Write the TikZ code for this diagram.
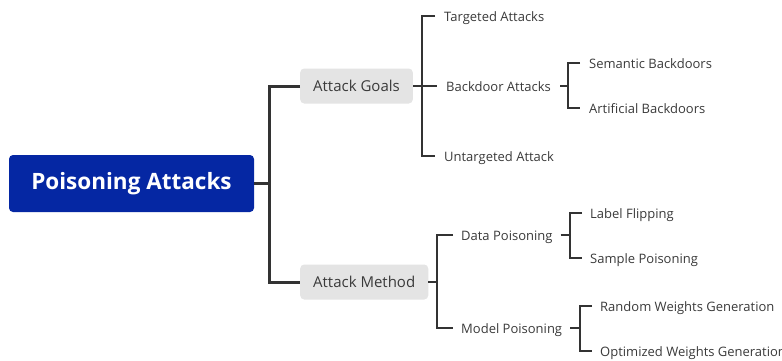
\documentclass[tikz,border=0pt]{standalone}
\usepackage{fontspec}
\setmainfont{Open Sans}
\usetikzlibrary{calc}
\definecolor{rootblue}{HTML}{0527A3}
\definecolor{boxgray}{HTML}{E4E4E4}
\definecolor{ink}{HTML}{3A3A3A}
\definecolor{wire}{HTML}{333333}
\tikzset{
  rootbox/.style={fill=rootblue, text=white, rounded corners=4pt,
    minimum width=245pt, minimum height=57pt, inner sep=0pt,
    font=\fontsize{22.5}{26}\selectfont\bfseries},
  topicbox/.style={fill=boxgray, text=ink, rounded corners=4pt, anchor=west,
    minimum height=35pt, inner xsep=13pt, inner ysep=0pt,
    font=\fontsize{15}{18}\selectfont},
  leaf/.style={text=ink, anchor=west, inner xsep=9pt, inner ysep=0pt,
    text height=11pt, text depth=0pt,
    font=\fontsize{13}{16}\selectfont},
  trunk/.style={draw=wire, line width=3pt},
  twig/.style={draw=wire, line width=2pt},
}
\begin{document}
\begin{tikzpicture}[x=1pt, y=-1pt]
\useasboundingbox (0,0) rectangle (782,360);

% central topic
\node[rootbox] (root) at (131.5,183.5) {Poisoning Attacks};

% main branches
\node[topicbox] (goals) at (300,86) {Attack Goals};
\node[topicbox] (method) at (300,282) {Attack Method};

% attack goals subtree
\node[leaf] (targeted) at (435,15.5) {Targeted Attacks};
\node[leaf] (backdoor) at (437,86) {Backdoor Attacks};
\node[leaf] (untargeted) at (435,156) {Untargeted Attack};
\node[leaf] (semantic) at (580,63) {Semantic Backdoors};
\node[leaf] (artificial) at (580,108) {Artificial Backdoors};

% attack method subtree
\node[leaf, inner xsep=8pt] (data) at (453,235) {Data Poisoning};
\node[leaf, inner xsep=8pt] (model) at (453,328) {Model Poisoning};
\node[leaf, inner xsep=8pt] (flip) at (582,213) {Label Flipping};
\node[leaf, inner xsep=8pt] (sample) at (582,258) {Sample Poisoning};
\node[leaf, inner xsep=8pt] (random) at (592,306) {Random Weights Generation};
\node[leaf, inner xsep=8pt] (optimized) at (592,351) {Optimized Weights Generation};

% root to main branches
\draw[trunk] (goals.west) -- ++(-31,0) coordinate (jroot) |- (method.west);
\draw[trunk] (root.east) -- (root.east -| jroot);

% attack goals brackets
\draw[twig] (targeted.west) -- ++(-13,0) coordinate (jgoals) |- (untargeted.west);
\draw[twig] (goals.east) -- (backdoor.west);
\draw[twig] (semantic.west) -- ++(-12,0) coordinate (jback) |- (artificial.west);
\draw[twig] (backdoor.east) -- (backdoor.east -| jback);

% attack method brackets
\draw[twig] (data.west) -- ++(-16,0) coordinate (jmethod) |- (model.west);
\draw[twig] (method.east) -- (method.east -| jmethod);
\draw[twig] (flip.west) -- ++(-12,0) coordinate (jdata) |- (sample.west);
\draw[twig] (data.east) -- (data.east -| jdata);
\draw[twig] (random.west) -- ++(-12,0) coordinate (jmodel) |- (optimized.west);
\draw[twig] (model.east) -- (model.east -| jmodel);
\end{tikzpicture}
\end{document}
